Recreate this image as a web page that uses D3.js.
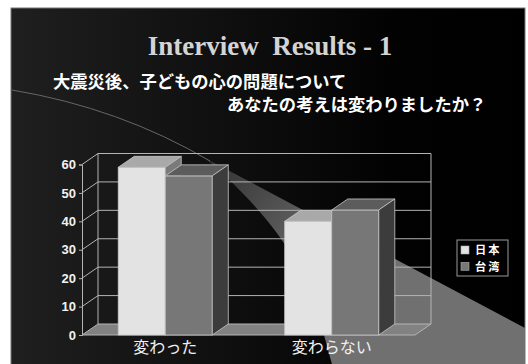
<!DOCTYPE html>
<html>
<head>
<meta charset="utf-8">
<script src="https://cdn.jsdelivr.net/npm/d3@7"></script>
<style>
  html, body { margin: 0; padding: 0; background: #fff; }
  svg { display: block; }
</style>
</head>
<body>
<svg id="chart" width="528" height="364"></svg>
<script>
const categories = ["変わった", "変わらない"];
const seriesNames = ["日本", "台湾"];
const japanValues = [59, 40];
const taiwanValues = [56, 44];
const yTickValues = [0, 10, 20, 30, 40, 50, 60];

const seriesValues = [japanValues, taiwanValues];
const seriesColors = [
    { front: "#e3e3e3", top: "#a9a9a9", side: "#7a7a7a" },
    { front: "#777777", top: "#5c5c5c", side: "#3c3c3c" }
];

function translate(x, y) {
    return `translate(${x}, ${y})`;
}

const svg = d3.select("#chart");
const defs = svg.append("defs");

// slide background
const bg = defs.append("linearGradient").attr("id", "bg")
    .attr("x1", 0).attr("y1", 0).attr("x2", 1).attr("y2", 0);
bg.append("stop").attr("offset", "0%").attr("stop-color", "#1f1f1f");
bg.append("stop").attr("offset", "75%").attr("stop-color", "#020202");
bg.append("stop").attr("offset", "100%").attr("stop-color", "#000");

const beam = defs.append("linearGradient").attr("id", "beam")
    .attr("gradientUnits", "userSpaceOnUse")
    .attr("x1", 205).attr("y1", 160).attr("x2", 330).attr("y2", 265);
beam.append("stop").attr("offset", "0%").attr("stop-color", "#303030");
beam.append("stop").attr("offset", "100%").attr("stop-color", "#707070");

svg.append("rect")
    .attr("x", 11).attr("y", 8).attr("width", 514).attr("height", 360)
    .attr("fill", "url(#bg)")
    .attr("stroke", "#777").attr("stroke-width", 1);

// decorative swoosh
svg.append("path")
    .attr("d", "M205,158 L525,328 L525,364 L332,364 C312,290 300,240 205,158 Z")
    .attr("fill", "url(#beam)");
svg.append("path")
    .attr("d", "M12,90 Q120,108 210,161")
    .attr("fill", "none").attr("stroke", "#666").attr("stroke-width", 1);

// titles
svg.append("text")
    .attr("x", 270).attr("y", 55)
    .attr("text-anchor", "middle")
    .attr("font-family", "'Liberation Serif', 'Times New Roman', serif")
    .attr("font-weight", "bold").attr("font-size", 27)
    .attr("fill", "#d4d4d4")
    .style("white-space", "pre")
    .text("Interview  Results - 1");

const subFont = "'Noto Sans CJK JP', 'Noto Sans', sans-serif";
svg.append("text")
    .attr("x", 53).attr("y", 88)
    .attr("font-family", subFont).attr("font-weight", "bold").attr("font-size", 17.3)
    .attr("fill", "#fff")
    .text("大震災後、子どもの心の問題について");
svg.append("text")
    .attr("x", 227).attr("y", 111)
    .attr("font-family", subFont).attr("font-weight", "bold").attr("font-size", 17.3)
    .attr("fill", "#fff")
    .text("あなたの考えは変わりましたか？");

// chart geometry
const x0 = 82, x1 = 415, yBottom = 335, yTop = 164.5;
const dx = 16, dy = -11;

const y = d3.scaleLinear().domain([0, 60]).range([yBottom, yTop]);
const x = d3.scaleBand().domain(categories).range([x0, x1]).paddingInner(0.435).paddingOuter(0.2175);
const xs = d3.scaleBand().domain(seriesNames).range([0, x.bandwidth()]);

const chart = svg.append("g");
const lineColor = "#b4b4b4";

// back wall gridlines
chart.selectAll(".grid")
    .data(yTickValues.filter(d => d > 0))
    .enter().append("line")
    .attr("x1", x0 + dx).attr("x2", x1 + dx)
    .attr("y1", d => y(d) + dy).attr("y2", d => y(d) + dy)
    .attr("stroke", lineColor).attr("stroke-width", 1);

// side wall diagonals
chart.selectAll(".side")
    .data(yTickValues.filter(d => d > 0))
    .enter().append("line")
    .attr("x1", x0).attr("x2", x0 + dx)
    .attr("y1", d => y(d)).attr("y2", d => y(d) + dy)
    .attr("stroke", lineColor).attr("stroke-width", 1);

// back wall verticals
[x0 + dx, x1 + dx].forEach(xx => {
    chart.append("line")
        .attr("x1", xx).attr("x2", xx)
        .attr("y1", y(0) + dy).attr("y2", y(60) + dy)
        .attr("stroke", lineColor).attr("stroke-width", 1);
});

// floor
chart.append("path")
    .attr("d", `M${x0},${y(0)} L${x1},${y(0)} L${x1 + dx},${y(0) + dy} L${x0 + dx},${y(0) + dy} Z`)
    .attr("fill", "#828282")
    .attr("stroke", lineColor).attr("stroke-width", 1);

// front axis
chart.append("g")
    .attr("transform", translate(x0, 0))
    .call(d3.axisLeft(y).tickValues(yTickValues).tickSize(3).tickPadding(3))
    .call(g => g.select(".domain").attr("stroke", lineColor))
    .call(g => g.selectAll(".tick line").attr("stroke", lineColor))
    .call(g => g.selectAll(".tick text")
        .attr("fill", "#f2f2f2")
        .attr("font-family", "'Liberation Sans', Arial, sans-serif")
        .attr("font-weight", "bold")
        .attr("font-size", 13));

// bars
categories.forEach((cat, ci) => {
    seriesNames.forEach((s, si) => {
        const v = seriesValues[si][ci];
        const bx = x(cat) + xs(s);
        const bw = xs.bandwidth();
        const by = y(v);
        const c = seriesColors[si];
        const g = chart.append("g");
        g.append("rect")
            .attr("x", bx).attr("y", by)
            .attr("width", bw).attr("height", y(0) - by)
            .attr("fill", c.front)
            .attr("stroke", "#c8c8c8").attr("stroke-width", 0.8);
        g.append("path")
            .attr("d", `M${bx},${by} L${bx + bw},${by} L${bx + bw + dx},${by + dy} L${bx + dx},${by + dy} Z`)
            .attr("fill", c.top)
            .attr("stroke", "#c8c8c8").attr("stroke-width", 0.8);
        g.append("path")
            .attr("d", `M${bx + bw},${by} L${bx + bw + dx},${by + dy} L${bx + bw + dx},${y(0) + dy} L${bx + bw},${y(0)} Z`)
            .attr("fill", c.side)
            .attr("stroke", "#c8c8c8").attr("stroke-width", 0.8);
    });
});

// category labels
chart.append("g")
    .attr("transform", translate(0, y(0)))
    .call(d3.axisBottom(x).tickSize(0).tickPadding(7))
    .call(g => g.select(".domain").remove())
    .call(g => g.selectAll(".tick text")
        .attr("fill", "#f0f0f0")
        .attr("font-family", subFont)
        .attr("font-size", 16));

// legend
const legend = svg.append("g").attr("transform", translate(457, 240));
legend.append("rect")
    .attr("width", 51).attr("height", 36)
    .attr("fill", "#000")
    .attr("stroke", "#999").attr("stroke-width", 1);
seriesNames.forEach((s, i) => {
    const row = legend.append("g").attr("transform", translate(4, 6 + i * 16.3));
    row.append("rect")
        .attr("width", 8).attr("height", 8)
        .attr("fill", seriesColors[i].front)
        .attr("stroke", "#aaa").attr("stroke-width", 0.6);
    row.append("text")
        .attr("x", 14).attr("y", 4)
        .attr("dy", "0.38em")
        .attr("font-family", subFont).attr("font-weight", "bold")
        .attr("font-size", 11.2)
        .attr("letter-spacing", 2)
        .attr("fill", "#fff")
        .text(s);
});
</script>
</body>
</html>
